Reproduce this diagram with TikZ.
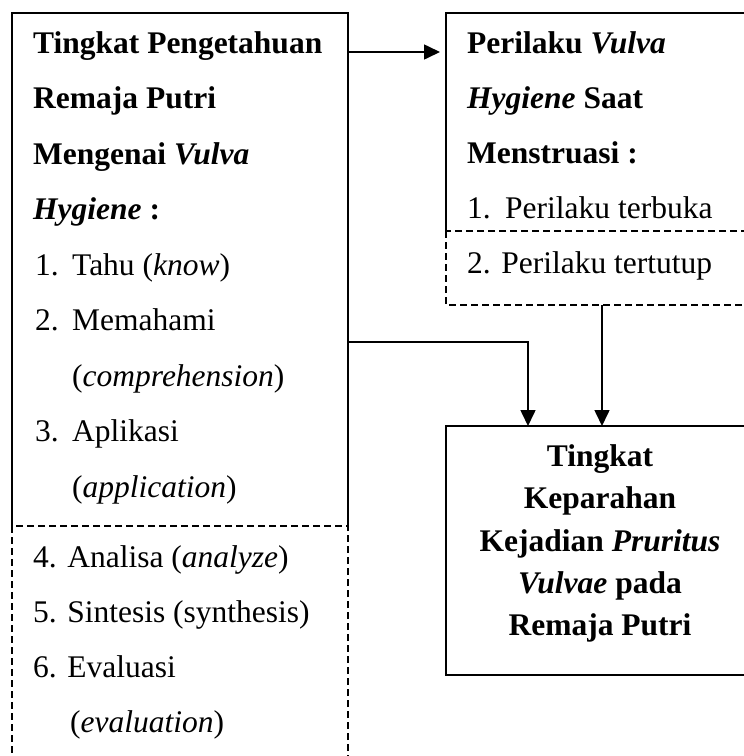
\documentclass[tikz,border=0pt]{standalone}
\usepackage{fontspec}
\setmainfont{Liberation Serif}
\usetikzlibrary{arrows.meta}
\begin{document}
\begin{tikzpicture}[x=1pt,y=-1pt,
  area/.style={inner sep=0pt,outer sep=0pt,anchor=north west},
  solidline/.style={line width=1.6pt},
  dashline/.style={line width=1.3pt,dash pattern=on 7pt off 4pt},
  txt/.style={anchor=base west,inner sep=0pt,font=\fontsize{31.5}{36}\selectfont},
  ctxt/.style={txt,anchor=base},
  conn/.style={line width=1.6pt,-{Triangle[length=16pt,width=15pt]}}]
\useasboundingbox (0,0) rectangle (744,756);
\clip (0,0) rectangle (744,756);
% box areas
\node[area,minimum width=336pt,minimum height=513pt] (L1) at (12,13) {};
\node[area,minimum width=336pt,minimum height=280pt] (L2) at (12,526) {};
\node[area,minimum width=330pt,minimum height=218pt] (R1) at (446,13) {};
\node[area,minimum width=330pt,minimum height=74pt] (R2) at (446,231) {};
\node[area,minimum width=330pt,minimum height=249pt] (B) at (446,426) {};
% box outlines
\draw[solidline] (L1.south west) |- (L1.north east) -- (L1.south east);
\draw[dashline] (L2.north west) rectangle (L2.south east);
\draw[solidline] (R1.south west) |- (R1.north east) -- (R1.south east);
\draw[dashline] (R2.north west) rectangle (R2.south east);
\draw[solidline] (B.north west) rectangle (B.south east);
% connectors
\draw[conn,shorten >=6pt] (L1.east |- 0,52) -- (R1.west |- 0,52);
\draw[conn] (L1.east |- 0,342) -| ([xshift=82pt]B.north west);
\draw[conn] ([xshift=156pt]R2.south west) -- ([xshift=156pt]B.north west);
% left box text
\node[txt] (l1) at (33,53) {\textbf{Tingkat Pengetahuan}};
\node[txt] (l2) at (33,108.5) {\textbf{Remaja Putri}};
\node[txt] (l3) at (33,164) {\textbf{Mengenai \textit{Vulva}}};
\node[txt] (l4) at (33,219.5) {\textbf{\textit{Hygiene} :}};
\node[txt] (l5) at (35,275) {\makebox[37pt][l]{1.}Tahu (\textit{know})};
\node[txt] (l6) at (35,330.5) {\makebox[37pt][l]{2.}Memahami};
\node[txt] (l7) at (72,386) {(\textit{comprehension})};
\node[txt] (l8) at (35,441.5) {\makebox[37pt][l]{3.}Aplikasi};
\node[txt] (l9) at (72,497) {(\textit{application})};
\node[txt] (l10) at (33,567) {4. Analisa (\textit{analyze})};
\node[txt] (l11) at (33,622) {5. Sintesis (synthesis)};
\node[txt] (l12) at (33,677) {6. Evaluasi};
\node[txt] (l13) at (70,732) {(\textit{evaluation})};
% right box text
\node[txt] (r1) at (467,53) {\textbf{Perilaku \textit{Vulva}}};
\node[txt] (r2) at (467,108) {\textbf{\textit{Hygiene} Saat}};
\node[txt] (r3) at (467,163) {\textbf{Menstruasi :}};
\node[txt] (r4) at (467,218) {\makebox[38pt][l]{1.}Perilaku terbuka};
\node[txt] (r5) at (467,273) {2. Perilaku tertutup};
% bottom box text
\node[ctxt] (b1) at (600,466) {\textbf{Tingkat}};
\node[ctxt] (b2) at (600,508) {\textbf{Keparahan}};
\node[ctxt] (b3) at (600,551) {\textbf{Kejadian \textit{Pruritus}}};
\node[ctxt] (b4) at (600,593) {\textbf{\textit{Vulvae} pada}};
\node[ctxt] (b5) at (600,635) {\textbf{Remaja Putri}};
\end{tikzpicture}
\end{document}
